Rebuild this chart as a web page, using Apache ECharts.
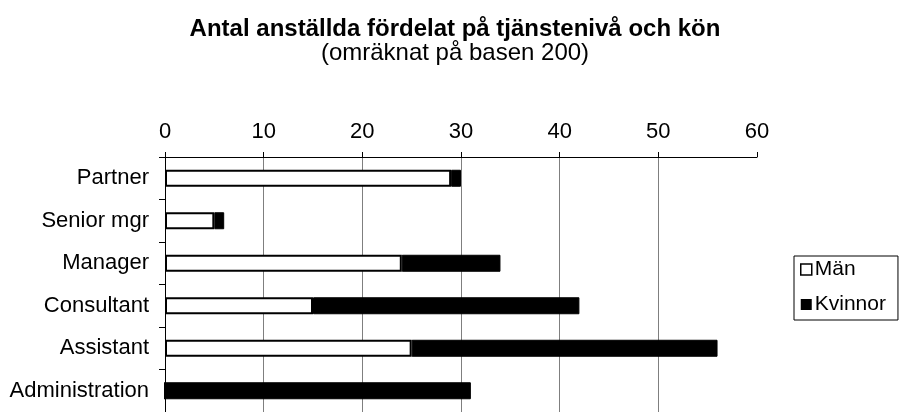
<!DOCTYPE html>
<html>
<head>
<meta charset="utf-8">
<script src="https://cdn.jsdelivr.net/npm/echarts@6/dist/echarts.min.js"></script>
<style>
html,body{margin:0;padding:0;background:#fff;}
#chart{width:899px;height:412px;}
</style>
</head>
<body>
<div id="chart"></div>
<script>
const categories = ['Partner', 'Senior mgr', 'Manager', 'Consultant', 'Assistant', 'Administration'];
const menValues = [29, 5, 24, 15, 25, 0];
const womenValues = [1, 1, 10, 27, 31, 31];
const seriesNames = ['Män', 'Kvinnor'];
const titleText = 'Antal anställda fördelat på tjänstenivå och kön';
const subtitleText = '(omräknat på basen 200)';

const FONT = '"Liberation Sans", Arial, sans-serif';
const chart = echarts.init(document.getElementById('chart'));
chart.setOption({
  animation: false,
  backgroundColor: '#ffffff',
  title: {
    text: titleText,
    subtext: subtitleText,
    left: 450,
    textAlign: 'center',
    top: 12,
    itemGap: 0,
    textStyle: { fontFamily: FONT, fontSize: 24, fontWeight: 'bold', color: '#000' },
    subtextStyle: { fontFamily: FONT, fontSize: 24, color: '#000' }
  },
  legend: {
    orient: 'vertical',
    left: 794,
    top: 256,
    padding: [3, 12, 5, 6],
    itemGap: 14,
    itemWidth: 11,
    itemHeight: 11,
    itemStyle: { borderWidth: 0 },
    borderColor: '#000',
    borderWidth: 1,
    textStyle: { fontFamily: FONT, fontSize: 21, color: '#000', padding: [0, 0, 0, -2] },
    data: [
      { name: seriesNames[0], icon: 'rect', itemStyle: { color: '#fff', borderColor: '#000', borderWidth: 1.5 } },
      { name: seriesNames[1], icon: 'rect', itemStyle: { color: '#000' } }
    ]
  },
  grid: { left: 165, top: 157, right: 142, bottom: -3, containLabel: false },
  xAxis: {
    type: 'value',
    position: 'top',
    min: 0,
    max: 60,
    interval: 10,
    axisLine: { show: true, lineStyle: { color: '#000', width: 1 } },
    axisTick: { show: true, inside: false, length: 5, lineStyle: { color: '#000' } },
    axisLabel: { fontFamily: FONT, fontSize: 22, color: '#000', margin: 14 },
    splitLine: { show: true, showMinLine: false, showMaxLine: false, lineStyle: { color: '#7f7f7f', width: 1 } }
  },
  yAxis: {
    type: 'category',
    data: categories,
    inverse: true,
    axisLine: { show: true, lineStyle: { color: '#000', width: 1 } },
    axisTick: { show: true, inside: false, length: 6, alignWithLabel: false, lineStyle: { color: '#000' } },
    axisLabel: { fontFamily: FONT, fontSize: 22, color: '#000', margin: 16 },
    splitLine: { show: false }
  },
  series: [
    {
      name: seriesNames[0],
      type: 'bar',
      stack: 'total',
      barWidth: 17,
      data: menValues,
      itemStyle: { color: '#ffffff', borderColor: '#000', borderWidth: 2 },
      z: 3
    },
    {
      name: seriesNames[1],
      type: 'bar',
      stack: 'total',
      barWidth: 17,
      data: womenValues,
      itemStyle: { color: '#000000', borderColor: '#000', borderWidth: 1 },
      z: 2
    }
  ]
});
</script>
</body>
</html>
